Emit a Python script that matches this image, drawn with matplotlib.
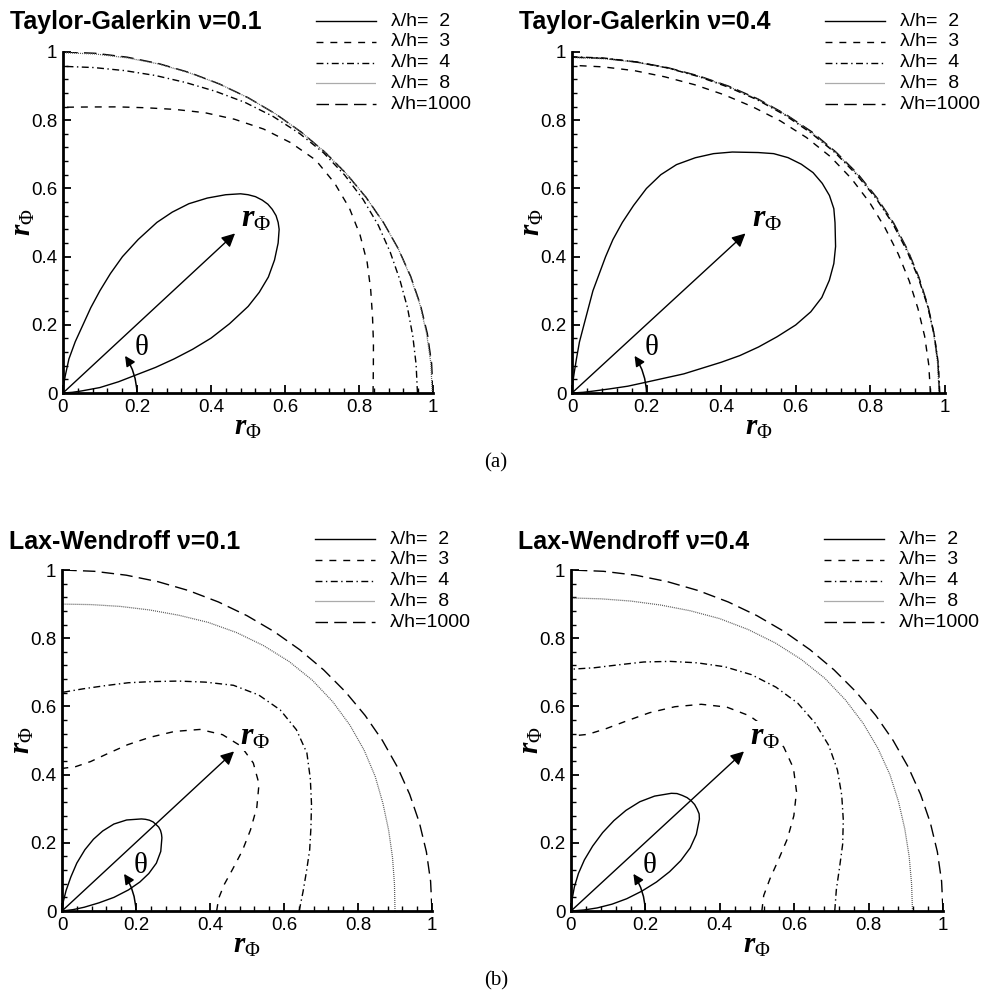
import numpy as np
import matplotlib
matplotlib.use('Agg')
import matplotlib.pyplot as plt
from matplotlib.patches import FancyArrowPatch

plt.rcParams['font.family'] = 'Liberation Sans'
plt.rcParams['mathtext.fontset'] = 'custom'
plt.rcParams['mathtext.it'] = 'Liberation Serif:italic:bold'
plt.rcParams['mathtext.rm'] = 'Liberation Serif'

# angle (deg) for the outer curves
theta = [0, 5, 10, 15, 20, 25, 30, 35, 40, 45, 50, 55, 60, 65, 70, 75, 80, 85, 90]

# ---- Taylor-Galerkin nu=0.1
tg1_r1000 = [1.0] * 19
tg1_r8 = [0.998, 0.998, 0.998, 0.999, 0.999, 1.0, 1.0, 1.0, 1.0, 1.0, 1.0, 1.0, 1.0, 1.0, 0.999, 0.999, 0.998, 0.998, 0.998]
tg1_r4 = [0.958, 0.958, 0.960, 0.964, 0.969, 0.976, 0.984, 0.990, 0.994, 0.996, 0.994, 0.990, 0.984, 0.976, 0.969, 0.964, 0.960, 0.958, 0.958]
tg1_r3 = [0.838, 0.842, 0.852, 0.866, 0.885, 0.907, 0.927, 0.945, 0.958, 0.966, 0.958, 0.945, 0.927, 0.907, 0.885, 0.866, 0.852, 0.842, 0.838]
tg1_loop_t = [0, 4.6, 6.8, 9.1, 12.4, 15.1, 16.7, 18.4, 20.1, 21.9, 24.3, 26.9, 29.1, 31.5, 34.3, 37.1, 39.4, 40.7, 42.1, 43.6, 45,
              46.4, 47.9, 49.3, 50.6, 52.9, 55.7, 58.5, 60.9, 63.1, 65.7, 68.1, 69.9, 71.6, 73.3, 74.9, 77.6, 80.9, 83.2, 85.4, 90]
tg1_loop_r = [0, 0.025, 0.05, 0.101, 0.154, 0.207, 0.261, 0.316, 0.373, 0.431, 0.494, 0.561, 0.607, 0.651, 0.692, 0.729, 0.756, 0.767, 0.776, 0.781, 0.783,
              0.781, 0.776, 0.767, 0.756, 0.729, 0.692, 0.651, 0.607, 0.561, 0.494, 0.431, 0.373, 0.316, 0.261, 0.207, 0.154, 0.101, 0.05, 0.025, 0]

# ---- Taylor-Galerkin nu=0.4
tg4_r1000 = [0.985, 0.985, 0.986, 0.988, 0.990, 0.993, 0.996, 0.998, 1.0, 1.0, 1.0, 0.998, 0.996, 0.993, 0.990, 0.988, 0.986, 0.985, 0.985]
tg4_r8 = [0.984, 0.984, 0.985, 0.987, 0.989, 0.992, 0.995, 0.997, 0.998, 0.999, 0.998, 0.997, 0.995, 0.992, 0.989, 0.987, 0.985, 0.984, 0.984]
tg4_r4 = [0.986, 0.986, 0.986, 0.987, 0.988, 0.990, 0.993, 0.995, 0.996, 0.997, 0.996, 0.995, 0.993, 0.990, 0.988, 0.987, 0.986, 0.986, 0.986]
tg4_r3 = [0.961, 0.960, 0.960, 0.960, 0.962, 0.965, 0.969, 0.974, 0.978, 0.980, 0.978, 0.974, 0.969, 0.965, 0.962, 0.960, 0.960, 0.960, 0.961]
tg4_loop_t = [0, 3.8, 5.7, 6.8, 7.6, 9.1, 10.6, 12.7, 13.7, 15.1, 16.7, 18.4, 20.4, 22.7, 25.6, 28.4, 31.3, 35.3, 37.6, 40.0, 42.5, 45,
              47.5, 50.0, 52.4, 54.7, 58.7, 61.6, 64.4, 67.3, 69.6, 71.6, 73.3, 74.9, 76.3, 77.3, 79.4, 80.9, 82.4, 83.2, 84.3, 86.2, 90]
tg4_loop_r = [0, 0.030, 0.060, 0.101, 0.151, 0.203, 0.305, 0.41, 0.463, 0.518, 0.574, 0.632, 0.683, 0.726, 0.765, 0.798, 0.827, 0.864, 0.886, 0.901, 0.910, 0.914,
              0.910, 0.901, 0.886, 0.864, 0.827, 0.798, 0.765, 0.726, 0.683, 0.632, 0.574, 0.518, 0.463, 0.41, 0.305, 0.203, 0.151, 0.101, 0.060, 0.030, 0]

# ---- Lax-Wendroff nu=0.1
lw1_r1000 = [1.0] * 19
lw1_r8 = [0.900, 0.902, 0.907, 0.914, 0.923, 0.934, 0.943, 0.950, 0.955, 0.957, 0.955, 0.950, 0.943, 0.934, 0.923, 0.914, 0.907, 0.902, 0.900]
lw1_r4 = [0.641, 0.654, 0.671, 0.693, 0.716, 0.744, 0.775, 0.808, 0.827, 0.834, 0.827, 0.808, 0.775, 0.744, 0.716, 0.693, 0.671, 0.654, 0.641]
lw1_r3 = [0.418, 0.425, 0.445, 0.478, 0.519, 0.562, 0.608, 0.650, 0.675, 0.684, 0.675, 0.650, 0.608, 0.562, 0.519, 0.478, 0.445, 0.425, 0.418]
lw1_loop_t = [0, 7.6, 10.4, 13.5, 15.9, 19.0, 22.0, 25.1, 28.8, 33.2, 38.5, 40.0, 41.6, 43.3, 45,
              46.7, 48.4, 50.0, 51.5, 56.8, 61.2, 64.9, 68.0, 71.0, 74.1, 76.5, 79.6, 82.4, 90]
lw1_loop_r = [0, 0.030, 0.061, 0.103, 0.146, 0.190, 0.227, 0.259, 0.291, 0.319, 0.345, 0.351, 0.356, 0.359, 0.359,
              0.359, 0.356, 0.351, 0.345, 0.319, 0.291, 0.259, 0.227, 0.190, 0.146, 0.103, 0.061, 0.030, 0]

# ---- Lax-Wendroff nu=0.4
lw4_r1000 = [1.0] * 19
lw4_r8 = [0.918, 0.919, 0.923, 0.929, 0.937, 0.946, 0.953, 0.959, 0.963, 0.965, 0.963, 0.959, 0.953, 0.946, 0.937, 0.929, 0.923, 0.919, 0.918]
lw4_r4 = [0.709, 0.716, 0.733, 0.756, 0.779, 0.803, 0.827, 0.846, 0.857, 0.862, 0.857, 0.846, 0.827, 0.803, 0.779, 0.756, 0.733, 0.716, 0.709]
lw4_r3 = [0.513, 0.520, 0.543, 0.577, 0.619, 0.661, 0.700, 0.730, 0.747, 0.752, 0.747, 0.730, 0.700, 0.661, 0.619, 0.577, 0.543, 0.520, 0.513]
lw4_loop_t = [0, 4.9, 7.3, 10.3, 13.5, 17.0, 20.3, 23.5, 26.6, 30.0, 33.7, 38.0, 39.6, 41.4, 43.2, 45,
              46.8, 48.6, 50.4, 52.0, 56.3, 60.0, 63.4, 66.5, 69.7, 73.0, 76.5, 79.7, 82.7, 85.1, 90]
lw4_loop_r = [0, 0.035, 0.071, 0.112, 0.154, 0.199, 0.245, 0.289, 0.330, 0.370, 0.405, 0.438, 0.447, 0.452, 0.456, 0.457,
              0.456, 0.452, 0.447, 0.438, 0.405, 0.370, 0.330, 0.289, 0.245, 0.199, 0.154, 0.112, 0.071, 0.035, 0]

labels = ['\u03bb/h=  2', '\u03bb/h=  3', '\u03bb/h=  4', '\u03bb/h=  8', '\u03bb/h=1000']
titles = ['Taylor-Galerkin \u03bd=0.1', 'Taylor-Galerkin \u03bd=0.4', 'Lax-Wendroff \u03bd=0.1', 'Lax-Wendroff \u03bd=0.4']
tick_vals = [0, 0.2, 0.4, 0.6, 0.8, 1]
tick_labels = ['0', '0.2', '0.4', '0.6', '0.8', '1']

panels = [
    (titles[0], [63, 433, 52, 393], (tg1_loop_t, tg1_loop_r), [tg1_r3, tg1_r4, tg1_r8, tg1_r1000]),
    (titles[1], [572, 945, 52, 393], (tg4_loop_t, tg4_loop_r), [tg4_r3, tg4_r4, tg4_r8, tg4_r1000]),
    (titles[2], [62, 432, 570, 911], (lw1_loop_t, lw1_loop_r), [lw1_r3, lw1_r4, lw1_r8, lw1_r1000]),
    (titles[3], [571, 943, 570, 911], (lw4_loop_t, lw4_loop_r), [lw4_r3, lw4_r4, lw4_r8, lw4_r1000]),
]

styles = [
    dict(ls='-', color='k', lw=1.0),
    dict(ls=(0, (5, 5)), color='k', lw=1.0),
    dict(ls=(0, (5, 2.5, 1, 2.5)), color='k', lw=1.0),
    dict(ls=(0, (0.8, 0.8)), color='0.35', lw=0.9),
    dict(ls=(0, (9, 4.5)), color='k', lw=1.0),
]

W, H = 992, 996
fig = plt.figure(figsize=(W / 100, H / 100), dpi=100)

for title, (x0, x1, y1, y0), loop, outer in panels:
    top_row = y1 < 100
    ax = fig.add_axes([x0 / W, 1 - y0 / H, (x1 - x0) / W, (y0 - y1) / H])
    # outer curves: long wave first so shorter ones sit on top
    for k in [3, 2, 1, 0]:
        t = np.radians(theta)
        r = np.array(outer[k])
        ax.plot(r * np.cos(t), r * np.sin(t), **styles[k + 1])
    t = np.radians(loop[0])
    r = np.array(loop[1])
    ax.plot(r * np.cos(t), r * np.sin(t), **styles[0])

    ax.set_xlim(0, 1)
    ax.set_ylim(0, 1)
    for s in ['top', 'right']:
        ax.spines[s].set_visible(False)
    for s in ['left', 'bottom']:
        ax.spines[s].set_linewidth(2.0)
    ax.set_xticks(tick_vals)
    ax.set_yticks(tick_vals)
    ax.set_xticklabels(tick_labels)
    ax.set_yticklabels(tick_labels)
    ax.set_xticks(np.arange(0, 1.001, 0.04), minor=True)
    ax.set_yticks(np.arange(0, 1.001, 0.04), minor=True)
    ax.tick_params(which='major', direction='in', length=6, width=1.3, labelsize=13.5, pad=4)
    ax.tick_params(which='minor', direction='in', length=3.5, width=1.0)
    ax.set_xlabel(r'$r_{\Phi}$', fontsize=21)
    ax.set_ylabel(r'$r_{\Phi}$', fontsize=21)
    ax.xaxis.set_label_coords(0.5, -0.06)
    ax.yaxis.set_label_coords(-0.07, 0.5)

    # radius arrow and angle arc
    ax.annotate('', xy=(0.465, 0.468), xytext=(0, 0),
                arrowprops=dict(arrowstyle='-|>', color='k', lw=1.0, mutation_scale=20,
                                shrinkA=0, shrinkB=0))
    a = np.radians(33)
    arc = FancyArrowPatch((0.2, 0), (0.2 * np.cos(a), 0.2 * np.sin(a)),
                          connectionstyle='arc3,rad=0.14', arrowstyle='-|>',
                          mutation_scale=15, lw=1.1, color='k', shrinkA=0, shrinkB=0)
    ax.add_patch(arc)
    ax.text(0.212, 0.133, '\u03b8', family='Liberation Serif', fontsize=21, ha='center', va='center')
    # in the Lax-Wendroff panels the label blanks out the curve behind it
    box = None if top_row else dict(fc='white', ec='none', pad=0)
    ax.text(0.482, 0.468, r'$r_{\Phi}$', fontsize=23, ha='left', va='bottom', bbox=box)

    ax.text(-0.143, 1.088 if top_row else 1.082, title, transform=ax.transAxes,
            fontsize=18, fontweight='bold', ha='left', va='center')

    # legend drawn by hand, top right
    for i in range(5):
        yy = y1 - 31 + 20.8 * i
        fy = (y0 - yy) / (y0 - y1)
        ax.plot([253 / (x1 - x0), 313 / (x1 - x0)], [fy, fy], transform=ax.transAxes,
                clip_on=False, **styles[i])
        ax.text(328 / (x1 - x0), fy, labels[i], transform=ax.transAxes,
                fontsize=14, ha='left', va='center')

fig.text(0.5, 1 - 463 / H, '(a)', ha='center', va='center', family='Liberation Serif', fontsize=15)
fig.text(0.5, 1 - 981 / H, '(b)', ha='center', va='center', family='Liberation Serif', fontsize=15)

fig.savefig('out.png', dpi=100)
